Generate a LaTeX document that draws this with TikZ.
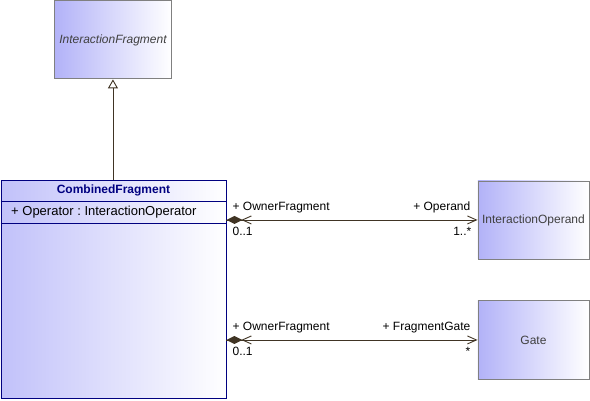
\documentclass[tikz,border=0pt]{standalone}
\usepackage{fontspec}
\setmainfont{Liberation Sans}
\usetikzlibrary{positioning}
\usetikzlibrary{arrows.meta}
\usetikzlibrary{calc}
\definecolor{classfill}{RGB}{178,178,248}
\definecolor{classline}{RGB}{128,128,128}
\definecolor{navyline}{RGB}{0,0,128}
\definecolor{assocline}{RGB}{64,52,36}
\definecolor{boxtext}{RGB}{64,64,64}
\newcommand\composite[1]{%
\fill[assocline] (#1) -- ++(8,4) -- ++(8,-4) -- ++(-8,-4) -- cycle;
\draw[assocline,line width=0.9pt] ($(#1)+(25,4)$) -- ++(-9,-4) -- ++(9,-4);
}
\frenchspacing

\begin{document}
\begin{tikzpicture}[x=1pt,y=1pt,
  every node/.style={font=\fontsize{12}{14}\selectfont,inner sep=0pt},
  classbox/.style={draw=classline,line width=0.9pt,left color=classfill,right color=white,text=boxtext,anchor=north west},
  cfbox/.style={draw=navyline,line width=0.9pt,left color=classfill!80!white,right color=white,anchor=north west},
  assoc/.style={draw=assocline,line width=0.9pt,-{Straight Barb[length=9pt,width=8pt]}},
  generalize/.style={draw=assocline,line width=0.9pt,-{Triangle[open,length=9pt,width=10pt,fill=white]}},
  rolelabel/.style={text=black}]
	%% canvas
	\useasboundingbox (0,0) rectangle (590,400);

	% classes
	\node[classbox,minimum width=117pt,minimum height=78pt,font=\fontsize{12}{14}\selectfont\itshape] (ifrag) at (54,399.5) {InteractionFragment};
	\node[cfbox,minimum width=225pt,minimum height=218pt] (cf) at (0.5,220) {};
	\node[classbox,minimum width=111pt,minimum height=78pt] (op) at (477.5,219.5) {InteractionOperand};
	\node[classbox,minimum width=111pt,minimum height=79pt] (gate) at (477.5,100) {Gate};

	% compartments of CombinedFragment
	\draw[navyline,line width=0.9pt] ($(cf.north west)+(0,-21)$) -- ($(cf.north east)+(0,-21)$);
	\draw[navyline,line width=0.9pt] ($(cf.north west)+(0,-43)$) -- ($(cf.north east)+(0,-43)$);
	\node[text=navyline,font=\fontsize{12}{14}\selectfont\bfseries] (cfname) at ($(cf.north)+(0,-10.5)$) {CombinedFragment};
	\node[anchor=west,font=\fontsize{13}{15}\selectfont] (cfattr) at ($(cf.north west)+(10.5,-32)$) {+ Operator : InteractionOperator};

	% generalization
	\draw[generalize] (cf.north -| ifrag.south) -- (ifrag.south);

	% associations
	\coordinate (s1) at (cf.east |- op.west);
	\coordinate (s2) at (cf.east |- gate.west);
	\draw[assoc] (s1) -- (op.west);
	\draw[assoc] (s2) -- (gate.west);
	\composite{s1}
	\composite{s2}

	\node[rolelabel,anchor=base west] (own1) at ($(s1)+(6,9.7)$) {+ OwnerFragment};
	\node[rolelabel,anchor=base west] (mult1) at ($(s1)+(6,-15.3)$) {0..1};
	\node[rolelabel,anchor=base east] (opname) at ($(op.west)+(-7,9.7)$) {+ Operand};
	\node[rolelabel,anchor=base east] (mult2) at ($(op.west)+(-6,-15.3)$) {1..*};

	\node[rolelabel,anchor=base west] (own2) at ($(s2)+(6,9.7)$) {+ OwnerFragment};
	\node[rolelabel,anchor=base west] (mult3) at ($(s2)+(6,-15.3)$) {0..1};
	\node[rolelabel,anchor=base east] (gatename) at ($(gate.west)+(-7,9.7)$) {+ FragmentGate};
	\node[rolelabel,anchor=base east] (mult4) at ($(gate.west)+(-7,-15.3)$) {*};
\end{tikzpicture}
\end{document}
